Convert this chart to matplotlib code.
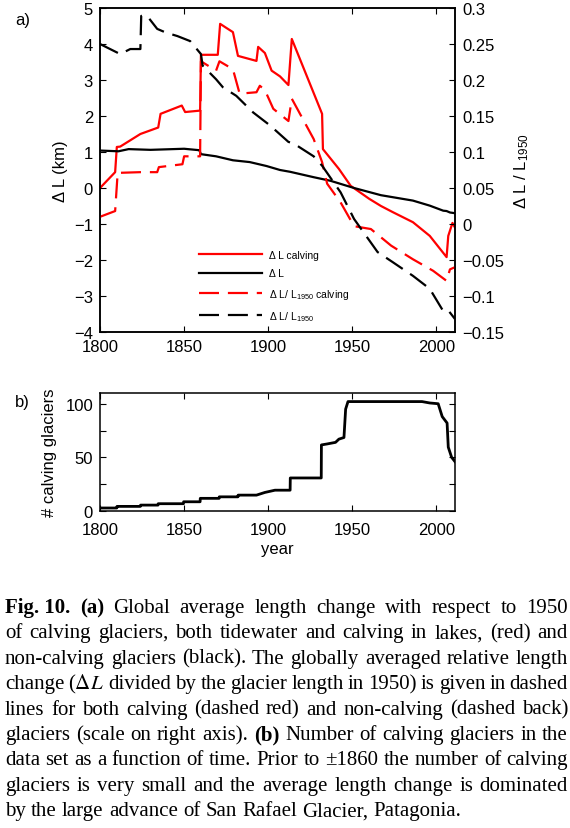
import numpy as np
import matplotlib
matplotlib.use('Agg')
import matplotlib.pyplot as plt
from matplotlib.ticker import FuncFormatter, FixedLocator

plt.rcParams['font.family'] = ['Liberation Sans', 'DejaVu Sans']
plt.rcParams['mathtext.fontset'] = 'custom'
plt.rcParams['mathtext.rm'] = 'Liberation Sans'
plt.rcParams['mathtext.it'] = 'Liberation Sans:italic'
plt.rcParams['mathtext.bf'] = 'Liberation Sans:bold'

# (a) calving glaciers, length change in km (left axis)
yr_calv = [1800, 1809, 1810, 1812, 1824, 1834.6, 1836, 1848.6, 1850.6, 1859.5, 1860, 1870, 1871.4,
           1875, 1879, 1882, 1893, 1894, 1898, 1902, 1907, 1912, 1914, 1932, 1932.5, 1942, 1949,
           1960, 1967, 1974, 1986, 1996, 2006, 2007, 2009.5, 2011]
dl_calv = [0.0, 0.44, 1.14, 1.15, 1.5, 1.68, 2.06, 2.29, 2.11, 2.15, 3.7, 3.7, 4.56,
           4.45, 4.33, 3.67, 3.53, 3.92, 3.75, 3.26, 3.1, 2.86, 4.14, 2.06, 1.08, 0.53, 0.06,
           -0.3, -0.5, -0.67, -0.95, -1.33, -1.92, -1.33, -0.97, -1.1]

# (a) non-calving glaciers, length change in km (left axis)
yr_nc = [1800, 1811, 1817, 1830, 1850, 1859, 1860, 1869, 1879, 1889, 1899, 1907, 1913, 1927,
         1937, 1951, 1967, 1986, 1996, 2004, 2006, 2008, 2011]
dl_nc = [1.04, 1.02, 1.08, 1.06, 1.09, 1.05, 0.94, 0.88, 0.77, 0.72, 0.61, 0.5, 0.45, 0.3,
         0.2, 0.0, -0.2, -0.35, -0.49, -0.63, -0.64, -0.68, -0.7]

# (a) relative length change, calving (right axis)
yr_rcalv = [1800, 1809, 1810.5, 1824, 1834, 1835, 1849, 1850, 1859.5, 1860, 1869, 1871, 1879,
            1883, 1893, 1895, 1898, 1903, 1912, 1914, 1927, 1932, 1935, 1943, 1951, 1961,
            1973, 1986, 1998, 2006, 2008, 2011]
rel_calv = [0.01, 0.018, 0.071, 0.072, 0.072, 0.079, 0.083, 0.094, 0.094, 0.226, 0.213, 0.226, 0.215,
            0.181, 0.183, 0.192, 0.186, 0.160, 0.143, 0.174, 0.118, 0.086, 0.056, 0.03, -0.003, -0.007,
            -0.03, -0.049, -0.065, -0.079, -0.063, -0.06]

# (a) relative length change, non-calving (right axis)
yr_rnc = [1800, 1812, 1818, 1824, 1824.5, 1828, 1834, 1839, 1846, 1853.6, 1860, 1861, 1869,
          1873, 1881, 1891, 1901, 1912, 1915, 1927, 1932, 1943, 1951, 1965, 1974, 1986, 1996,
          2004, 2007, 2011]
rel_nc = [0.25, 0.236, 0.243, 0.243, 0.289, 0.289, 0.271, 0.266, 0.261, 0.254, 0.236, 0.22, 0.201,
          0.19, 0.178, 0.155, 0.137, 0.114, 0.112, 0.094, 0.081, 0.044, 0.007, -0.039, -0.053, -0.072, -0.09,
          -0.121, -0.12, -0.132]

# (b) number of calving glaciers
yr_n = [1800, 1810, 1810.1, 1824, 1824.1, 1834.5, 1834.6, 1849.6, 1849.7, 1859.5, 1859.6, 1870.8,
        1870.9, 1882, 1882.1, 1893, 1898, 1904, 1913, 1913.1, 1931.5, 1931.6, 1935, 1940, 1942,
        1945, 1946, 1947.4, 1991.4, 1996, 2001, 2003.4, 2006.3, 2007, 2009, 2011]
n_calv = [2.8, 2.8, 4.3, 4.3, 5.5, 5.5, 6.8, 6.8, 8.6, 8.6, 11.8, 11.8,
          13.2, 13.2, 14.8, 14.8, 17.3, 19.4, 19.4, 30.8, 30.8, 61.6, 62.5, 64, 67,
          68.5, 95, 102, 102, 100.7, 100, 88, 82, 59.5, 50, 46]

W, H = 570, 829
fig = plt.figure(figsize=(W / 100, H / 100), dpi=100)

def box(l, t, r, b):
    return [l / W, 1 - b / H, (r - l) / W, (b - t) / H]

def fmt(v, pos):
    s = '%g' % round(v, 4)
    return s.replace('-', '\u2212')

tick_kw = dict(direction='in', length=4, width=0.8, labelsize=12, pad=5)

# ---- panel a
ax = fig.add_axes(box(100, 9, 455, 333))
ax2 = ax.twinx()
l1, = ax.plot(yr_calv, dl_calv, 'r-', lw=1.6)
l2, = ax.plot(yr_nc, dl_nc, 'k-', lw=1.6)
l3, = ax2.plot(yr_rcalv, rel_calv, color='r', lw=1.6, dashes=(9, 4))
l4, = ax2.plot(yr_rnc, rel_nc, color='k', lw=1.6, dashes=(9, 4))
ax.set_xlim(1800, 2011)
ax.set_ylim(-4, 5)
ax2.set_ylim(-0.15, 0.3)
ax.set_xticks([1800, 1850, 1900, 1950, 2000])
ax.set_yticks(range(-4, 6))
ax2.set_yticks(np.arange(-0.15, 0.31, 0.05))
ax.yaxis.set_major_formatter(FuncFormatter(fmt))
ax2.yaxis.set_major_formatter(FuncFormatter(fmt))
ax.tick_params(top=True, right=False, **tick_kw)
ax2.tick_params(**tick_kw)
for a in (ax, ax2):
    for s in a.spines.values():
        s.set_linewidth(1.1)
ax.set_ylabel('\u0394 L (km)', fontsize=12, labelpad=4)
ax2.set_ylabel('\u0394 L / L$_{1950}$', fontsize=12, labelpad=6)

ax2.legend([l1, l2, l3, l4],
           ['\u0394 L calving', '\u0394 L', '\u0394 L/ L$_{1950}$ calving', '\u0394 L/ L$_{1950}$'],
           loc='upper left', bbox_to_anchor=(199 / W, 1 - 251 / H), bbox_transform=fig.transFigure,
           frameon=False, fontsize=7.5, borderpad=0, borderaxespad=0,
           handlelength=6.0, handletextpad=0.7, labelspacing=0.8)

fig.text(15 / W, 1 - 20 / H, 'a)', fontsize=12, va='center')

# ---- panel b
bx = fig.add_axes(box(100, 394, 455, 512))
bx.plot(yr_n, n_calv, 'k-', lw=2.0)
bx.set_xlim(1800, 2011)
bx.set_ylim(0, 110)
bx.set_xticks([1800, 1850, 1900, 1950, 2000])
bx.set_yticks([0, 50, 100])
bx.yaxis.set_minor_locator(FixedLocator([25, 75]))
bx.tick_params(which='both', top=True, right=True, **tick_kw)
bx.tick_params(axis='x', pad=8)
for s in bx.spines.values():
    s.set_linewidth(1.1)
bx.set_xlabel('year', fontsize=12, labelpad=3)
bx.set_ylabel('# calving glaciers', fontsize=12, labelpad=6)
fig.text(15 / W, 1 - 402 / H, 'b)', fontsize=12, va='center')

# ---- caption, justified word by word
cap = [
    [('Fig. 10.', 1), ('(a)', 1), ('Global', 0), ('average', 0), ('length', 0), ('change', 0),
     ('with', 0), ('respect', 0), ('to', 0), ('1950', 0)],
    'of calving glaciers, both tidewater and calving in lakes, (red) and',
    'non-calving glaciers (black). The globally averaged relative length',
    'change ($\\Delta{}L$ divided by the glacier length in 1950) is given in dashed',
    'lines for both calving (dashed red) and non-calving (dashed back)',
    [('glaciers', 0), ('(scale', 0), ('on', 0), ('right', 0), ('axis).', 0), ('(b)', 1),
     ('Number', 0), ('of', 0), ('calving', 0), ('glaciers', 0), ('in', 0), ('the', 0)],
    'data set as a function of time. Prior to \u00b11860 the number of calving',
    'glaciers is very small and the average length change is dominated',
    'by the large advance of San Rafael Glacier, Patagonia.',
]
cap_fs = 15
x0, x1 = 5, 568
y0, dy = 613, 25.4
renderer = fig.canvas.get_renderer()
for i, line in enumerate(cap):
    if isinstance(line, str):
        line = [(w, 0) for w in line.split(' ')]
    y = 1 - (y0 + i * dy) / H
    texts, widths = [], []
    for w, bold in line:
        t = fig.text(0, y, w, fontsize=cap_fs, family='Liberation Serif',
                     weight='bold' if bold else 'normal', va='baseline', math_fontfamily='stix')
        texts.append(t)
        widths.append(t.get_window_extent(renderer).width)
    if i < len(cap) - 1:
        gap = (x1 - x0 - sum(widths)) / (len(line) - 1)
    else:
        gap = cap_fs * 1.389 * 0.25
    x = x0
    for t, w in zip(texts, widths):
        t.set_x(x / W)
        x += w + gap

fig.savefig('out.png', dpi=100)
